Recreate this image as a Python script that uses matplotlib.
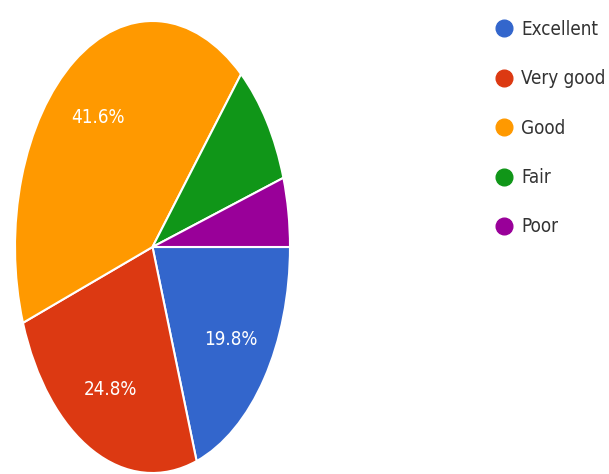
import matplotlib
matplotlib.use("Agg")
import matplotlib.pyplot as plt
from matplotlib.lines import Line2D
from matplotlib.font_manager import FontProperties

categories = ["Excellent", "Very good", "Good", "Fair", "Poor"]
counts = [20, 25, 42, 9, 5]
colors = ["#3366CC", "#DC3912", "#FF9900", "#109618", "#990099"]

plt.rcParams["font.family"] = ["DejaVu Sans"]
fp_leg = FontProperties(family="DejaVu Sans", stretch="condensed", size=13.5)
fp_pct = FontProperties(family="DejaVu Sans", stretch="condensed", size=13.5)

W, H = 609, 474
fig = plt.figure(figsize=(W / 100, H / 100), dpi=100)
fig.patch.set_facecolor("white")

cx, cy, rx, ry = 152.5, 247, 137.5, 226
ax = fig.add_axes([(cx - rx) / W, (H - cy - ry) / H, 2 * rx / W, 2 * ry / H])


def fmt(p):
    return f"{p:.1f}%" if p >= 10 else ""


wedges, texts, autotexts = ax.pie(
    counts,
    colors=colors,
    startangle=0,
    counterclock=False,
    autopct=fmt,
    pctdistance=0.7,
    wedgeprops=dict(edgecolor="white", linewidth=1.5),
    textprops=dict(color="white"),
)
for t in autotexts:
    t.set_fontproperties(fp_pct)
ax.set_aspect("auto")
ax.set_xlim(-1, 1)
ax.set_ylim(-1, 1)
ax.axis("off")

handles = [
    Line2D([], [], marker="o", linestyle="none", markersize=12,
           markerfacecolor=c, markeredgecolor=c)
    for c in colors
]
leg = fig.legend(
    handles, categories,
    loc="upper left",
    bbox_to_anchor=(495 / W, 1 - 20 / H),
    frameon=False,
    prop=fp_leg,
    handlelength=1.0,
    handletextpad=0.4,
    labelspacing=1.62,
    borderpad=0,
    borderaxespad=0,
)
for t in leg.get_texts():
    t.set_color("#333333")

fig.savefig("out.png", dpi=100, facecolor="white")
